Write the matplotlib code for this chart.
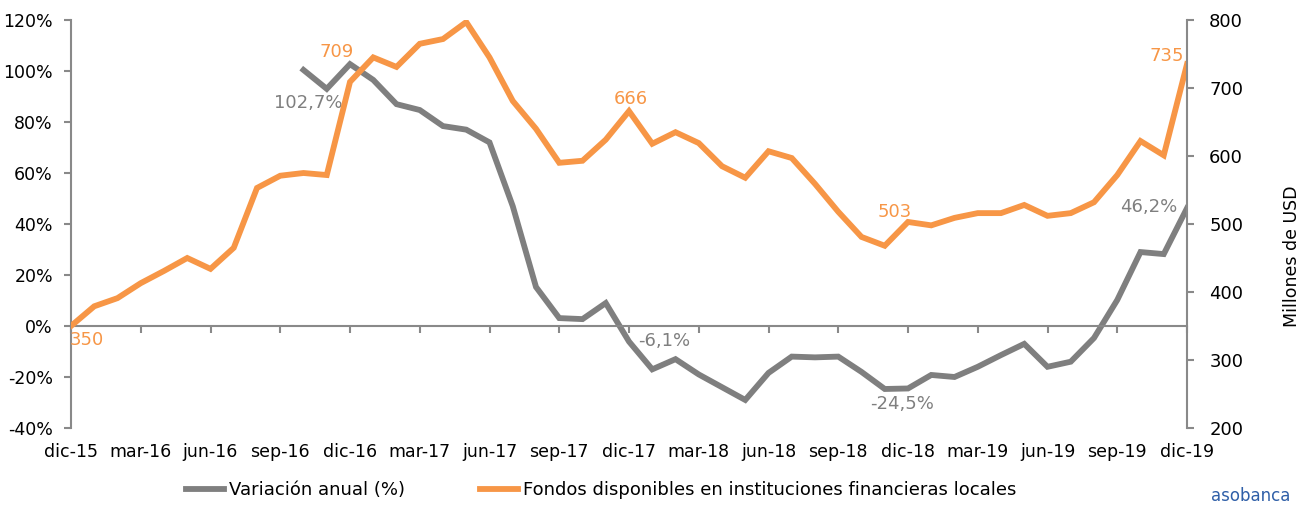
import numpy as np
import matplotlib
matplotlib.use('Agg')
import matplotlib.pyplot as plt
from matplotlib.ticker import FuncFormatter

# monthly data dic-15 .. dic-19 (49 points)
fondos = [350, 379, 391, 413, 431, 450, 434, 465, 553, 571, 575, 572,
          709, 745, 731, 765, 772, 797, 745, 681, 640, 590, 593, 624,
          666, 618, 635, 619, 585, 568, 607, 597, 559, 518, 481, 468,
          503, 498, 509, 516, 516, 528, 512, 516, 532, 572, 622, 601,
          735]
variacion = [np.nan] * 10 + [
    100.4, 93.0,
    102.7, 96.5, 87.0, 84.7, 78.4, 77.0, 72.0, 47.0, 15.3, 3.1, 2.7, 9.0,
    -6.1, -17.0, -13.0, -19.0, -24.0, -29.0, -18.4, -12.0, -12.3, -12.0, -18.0, -24.7,
    -24.5, -19.2, -20.0, -16.0, -11.4, -7.0, -16.0, -14.0, -4.7, 10.2, 29.0, 28.2,
    46.2]
ticks_x = list(range(0, 49, 3))
etiquetas_x = ['dic-15', 'mar-16', 'jun-16', 'sep-16', 'dic-16', 'mar-17', 'jun-17',
               'sep-17', 'dic-17', 'mar-18', 'jun-18', 'sep-18', 'dic-18', 'mar-19',
               'jun-19', 'sep-19', 'dic-19']
# (index, series, text, dx px, dy px)
etiquetas_datos = [
    (0, 'f', '350', 16, -14),
    (12, 'f', '709', -13, 30),
    (24, 'f', '666', 2, 12),
    (36, 'f', '503', -13, 10),
    (48, 'f', '735', -20, 8),
    (12, 'v', '102,7%', -42, -39),
    (24, 'v', '-6,1%', 35, 1),
    (36, 'v', '-24,5%', -6, -16),
    (48, 'v', '46,2%', -38, 1),
]

GRIS = '#7f7f7f'
NARANJA = '#F79646'
EJE = '#898989'

plt.rcParams['font.family'] = ['DejaVu Sans']
fig = plt.figure(figsize=(13.07, 5.07), dpi=100)
ax = fig.add_axes([71 / 1307, 1 - 428 / 507, 1116 / 1307, 408 / 507])
ax2 = ax.twinx()

x = np.arange(len(fondos))
l1, = ax.plot(x, variacion, color=GRIS, lw=4.2, solid_joinstyle='miter', label='Variación anual (%)')
l2, = ax2.plot(x, fondos, color=NARANJA, lw=4.2, solid_joinstyle='miter',
               label='Fondos disponibles en instituciones financieras locales')

ax.set_xlim(0, 48)
ax.set_ylim(-40, 120)
ax.set_yticks(range(-40, 121, 20))
ax.yaxis.set_major_formatter(FuncFormatter(lambda v, p: f'{v:.0f}%'))
ax2.set_ylim(200, 800)
ax2.set_yticks(range(200, 801, 100))

for a in (ax, ax2):
    for s in a.spines.values():
        s.set_color(EJE)
        s.set_linewidth(1.5)
    a.spines['top'].set_visible(False)
ax.spines['right'].set_visible(False)
ax2.spines['left'].set_visible(False)
ax2.spines['bottom'].set_visible(False)
ax.spines['bottom'].set_position(('data', 0))

ax.set_xticks(ticks_x)
ax.tick_params(axis='x', length=5, width=1.5, color=EJE, labelbottom=False)
ax.tick_params(axis='y', length=5, width=1.5, color=EJE, pad=8, labelsize=12.5)
ax2.tick_params(axis='y', length=5, width=1.5, color=EJE, pad=11, labelsize=13)

sec = ax.secondary_xaxis('bottom')
sec.set_xticks(ticks_x, etiquetas_x)
sec.tick_params(length=0, pad=11, labelsize=12.5)
sec.spines['bottom'].set_visible(False)

ax2.set_ylabel('Millones de USD', fontsize=12.5)
ax2.yaxis.set_label_coords(1.086, 0.42)

for i, serie, txt, dx, dy in etiquetas_datos:
    if serie == 'f':
        ax2.annotate(txt, (x[i], fondos[i]), xytext=(dx, dy), textcoords='offset pixels',
                     ha='center', va='center', color=NARANJA, fontsize=13)
    else:
        ax.annotate(txt, (x[i], variacion[i]), xytext=(dx, dy), textcoords='offset pixels',
                    ha='center', va='center', color=GRIS, fontsize=13)

fig.legend(handles=[l1, l2], loc='center', bbox_to_anchor=(0.46, 0.033), ncol=2,
           frameon=False, fontsize=13, handlelength=2.1, handletextpad=0.25,
           columnspacing=4.2)

fig.text(0.987, 0.004, 'asobanca', ha='right', va='bottom', color='#2f5fa8',
         fontsize=12)

fig.savefig('out.png', dpi=100)
